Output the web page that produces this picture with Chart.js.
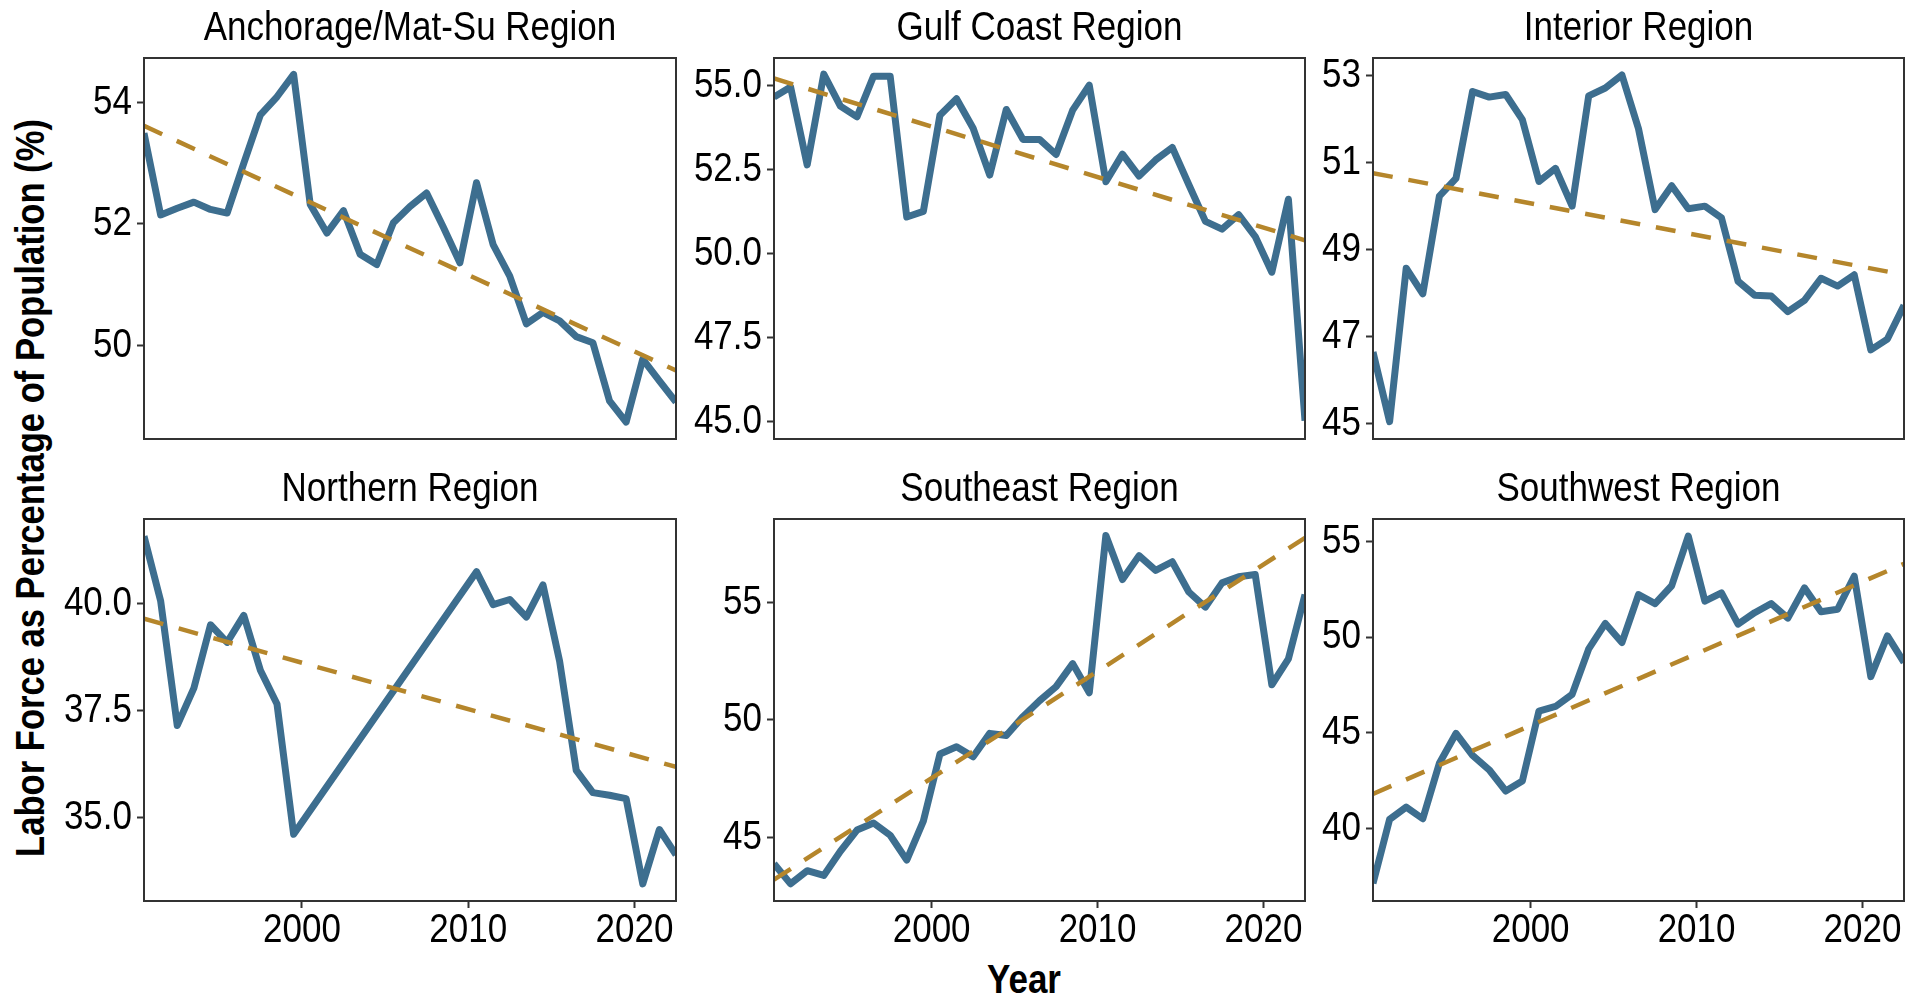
<!DOCTYPE html>
<html>
<head>
<meta charset="utf-8">
<title>Labor Force as Percentage of Population by Region</title>
<script src="https://cdn.jsdelivr.net/npm/chart.js@4.4.1/dist/chart.umd.min.js"></script>
<style>
  html, body { margin: 0; padding: 0; background: #fff; }
  #wrap { position: relative; width: 1907px; height: 996px; overflow: hidden; background: #fff; }
  .panel { position: absolute; }
  #ytitle {
    position: absolute; left: 30px; top: 488px;
    transform: translate(-50%, -50%) rotate(-90deg) scaleY(1.18);
    white-space: nowrap; color: #000;
    font: bold 34.6px "Liberation Sans", Arial, sans-serif;
  }
  #xtitle {
    position: absolute; left: 1024px; top: 979px;
    transform: translate(-50%, -50%) scaleY(1.15);
    white-space: nowrap; color: #000;
    font: bold 35px "Liberation Sans", Arial, sans-serif;
  }
</style>
</head>
<body>
<div id="wrap">
  <div id="ytitle">Labor Force as Percentage of Population (%)</div>
  <div id="xtitle">Year</div>
</div>

<script>
// ---- data ----
const years = [1990, 1991, 1992, 1993, 1994, 1995, 1996, 1997, 1998, 1999,
               2000, 2001, 2002, 2003, 2004, 2005, 2006, 2007, 2008, 2009,
               2010, 2011, 2012, 2013, 2014, 2015, 2016, 2017, 2018, 2019,
               2020, 2021, 2022];
const xTicks = [2000, 2010, 2020];

const anchorage = [53.5, 52.15, 52.26, 52.36, 52.24, 52.18, 53.0, 53.8, 54.1, 54.47,
                   52.32, 51.85, 52.22, 51.5, 51.33, 52.02, 52.29, 52.51, 51.95, 51.36,
                   52.68, 51.66, 51.14, 50.35, 50.54, 50.4, 50.14, 50.04, 49.08, 48.73,
                   49.77, 49.41, 49.06];
const gulfCoast = [54.65, 54.95, 52.63, 55.33, 54.38, 54.06, 55.27, 55.27, 51.08, 51.25,
                   54.11, 54.6, 53.72, 52.33, 54.28, 53.39, 53.39, 52.94, 54.26, 55.0,
                   52.13, 52.95, 52.3, 52.78, 53.15, 52.04, 50.95, 50.72, 51.15, 50.5,
                   49.44, 51.61, 45.02];
const interior  = [46.64, 45.04, 48.57, 47.98, 50.23, 50.64, 52.64, 52.51, 52.57, 51.99,
                   50.57, 50.87, 50.0, 52.54, 52.72, 53.02, 51.78, 49.92, 50.47, 49.94,
                   50.0, 49.73, 48.27, 47.95, 47.93, 47.57, 47.83, 48.34, 48.16, 48.42,
                   46.69, 46.94, 47.72];
const northern  = [41.58, 40.07, 37.16, 38.03, 39.51, 39.1, 39.73, 38.45, 37.66, 34.62,
                   null, null, null, null, null, null, null, null, null, null,
                   40.75, 39.98, 40.1, 39.69, 40.44, 38.66, 36.11, 35.59, 35.53, 35.45,
                   33.46, 34.73, 34.14];
const southeast = [43.87, 43.01, 43.57, 43.37, 44.4, 45.3, 45.6, 45.08, 44.02, 45.68,
                   48.54, 48.85, 48.42, 49.42, 49.33, 50.13, 50.81, 51.41, 52.39, 51.15,
                   57.85, 55.97, 56.99, 56.36, 56.73, 55.44, 54.8, 55.83, 56.09, 56.19,
                   51.49, 52.59, 55.33];
const southwest = [37.12, 40.47, 41.11, 40.5, 43.4, 44.96, 43.81, 43.06, 41.95, 42.47,
                   46.13, 46.37, 47.0, 49.38, 50.71, 49.71, 52.22, 51.75, 52.68, 55.28,
                   51.88, 52.31, 50.67, 51.27, 51.75, 50.99, 52.57, 51.32, 51.45, 53.18,
                   47.93, 50.06, 48.67];

// linear trend, value at first and last year
const anchorageTrend = [53.62, 49.58];
const gulfCoastTrend = [55.2, 50.39];
const interiorTrend  = [50.76, 48.42];
const northernTrend  = [39.65, 36.19];
const southeastTrend = [43.19, 57.75];
const southwestTrend = [41.8, 53.83];

// y ticks and y ranges per facet
const anchorageTicks = [50, 52, 54];
const gulfCoastTicks = [45, 47.5, 50, 52.5, 55];
const interiorTicks  = [45, 47, 49, 51, 53];
const northernTicks  = [35, 37.5, 40];
const southeastTicks = [45, 50, 55];
const southwestTicks = [40, 45, 50, 55];

const anchorageRange = [48.45, 54.74];
const gulfCoastRange = [44.48, 55.81];
const interiorRange  = [44.64, 53.41];
const northernRange  = [33.06, 41.98];
const southeastRange = [42.28, 58.55];
const southwestRange = [36.2, 56.17];

const panels = [
  { title: 'Anchorage/Mat-Su Region', values: anchorage, trend: anchorageTrend, ticks: anchorageTicks, range: anchorageRange, dec: 0 },
  { title: 'Gulf Coast Region',       values: gulfCoast, trend: gulfCoastTrend, ticks: gulfCoastTicks, range: gulfCoastRange, dec: 1 },
  { title: 'Interior Region',         values: interior,  trend: interiorTrend,  ticks: interiorTicks,  range: interiorRange,  dec: 0 },
  { title: 'Northern Region',         values: northern,  trend: northernTrend,  ticks: northernTicks,  range: northernRange,  dec: 1 },
  { title: 'Southeast Region',        values: southeast, trend: southeastTrend, ticks: southeastTicks, range: southeastRange, dec: 0 },
  { title: 'Southwest Region',        values: southwest, trend: southwestTrend, ticks: southwestTicks, range: southwestRange, dec: 0 },
];

// ---- look ----
const BLUE = '#3d6e8f';
const GOLD = '#b5862b';
const FRAME = '#333333';
const MID = 0.5;            // yearly values sit mid-year on the axis
const TEXT_STRETCH = 1.18;  // reference type is tall and narrow

// panel boxes (plot areas) in page pixels
const colLeft  = [144, 774, 1373];
const colWidth = [532, 531, 531];
const rowTop   = [58, 519];
const rowH     = [381, 382];
const LPAD = 100, RPAD = 4, TITLE_H = 58, XAXIS_H = 62;

const FAMILY = '"Liberation Sans", Arial, sans-serif';
const FSIZE = 35;

// draw every label a bit taller, anchored where Chart.js puts it
const tallText = {
  id: 'tallText',
  beforeInit(chart) {
    const ctx = chart.ctx;
    const orig = ctx.fillText;
    ctx.fillText = function (text, x, y, maxWidth) {
      this.save();
      this.translate(x, y);
      this.scale(1, TEXT_STRETCH);
      if (maxWidth === undefined) orig.call(this, text, 0, 0);
      else orig.call(this, text, 0, 0, maxWidth);
      this.restore();
    };
  }
};

const framePlugin = {
  id: 'frame',
  afterDatasetsDraw(chart) {
    const a = chart.chartArea, ctx = chart.ctx;
    ctx.save();
    ctx.strokeStyle = FRAME;
    ctx.lineWidth = 2;
    ctx.strokeRect(a.left, a.top, a.right - a.left, a.bottom - a.top);
    ctx.restore();
  }
};

function makePanel(p, idx) {
  const row = Math.floor(idx / 3), col = idx % 3;
  const bottomRow = row === 1;
  const box = { left: colLeft[col], top: rowTop[row], w: colWidth[col], h: rowH[row] };

  const div = document.createElement('div');
  div.className = 'panel';
  div.style.left = (box.left - LPAD) + 'px';
  div.style.top = (box.top - TITLE_H) + 'px';
  div.style.width = (LPAD + box.w + RPAD) + 'px';
  div.style.height = (TITLE_H + box.h + (bottomRow ? XAXIS_H : 4)) + 'px';
  const canvas = document.createElement('canvas');
  div.appendChild(canvas);
  document.getElementById('wrap').appendChild(div);

  const x0 = years[0] + MID, x1 = years[years.length - 1] + MID;
  const line = years.map((yr, i) => ({ x: yr + MID, y: p.values[i] }));
  const trend = [{ x: x0, y: p.trend[0] }, { x: x1, y: p.trend[1] }];
  const font = { family: FAMILY, size: FSIZE, weight: 'normal', lineHeight: 1.2 };

  new Chart(canvas, {
    type: 'line',
    data: {
      datasets: [
        { data: line, borderColor: BLUE, borderWidth: 7, pointRadius: 0, tension: 0,
          spanGaps: true, clip: 0, order: 1, borderJoinStyle: 'round', borderCapStyle: 'butt' },
        { data: trend, borderColor: GOLD, borderWidth: 4.5, borderDash: [20, 16], pointRadius: 0,
          tension: 0, clip: 0, order: 0, borderCapStyle: 'butt' },
      ],
    },
    options: {
      animation: false,
      responsive: true,
      maintainAspectRatio: false,
      devicePixelRatio: 1,
      layout: { padding: { left: 0, top: 0, right: RPAD, bottom: bottomRow ? 0 : 4 } },
      plugins: {
        legend: { display: false },
        tooltip: { enabled: false },
        title: {
          display: true, fullSize: false, text: p.title, color: '#000', font,
          padding: { top: 8, bottom: TITLE_H - 8 - FSIZE * 1.2 },
        },
      },
      scales: {
        x: {
          type: 'linear', min: x0, max: x1, display: bottomRow,
          afterBuildTicks: s => { s.ticks = xTicks.map(v => ({ value: v })); },
          afterFit: s => {
            s.height = bottomRow ? XAXIS_H : 0;
            s.paddingLeft = 0; s.paddingRight = 0;
          },
          ticks: { color: '#000', font, padding: 2, maxRotation: 0, autoSkip: false,
                   callback: v => String(v) },
          grid: { drawOnChartArea: false, drawTicks: true, tickLength: 7, tickColor: FRAME, tickWidth: 2 },
          border: { display: false },
        },
        y: {
          type: 'linear', min: p.range[0], max: p.range[1],
          afterBuildTicks: s => { s.ticks = p.ticks.map(v => ({ value: v })); },
          afterFit: s => { s.width = LPAD; s.paddingTop = 0; s.paddingBottom = 0; },
          ticks: { color: '#000', font, padding: 5, autoSkip: false,
                   callback: v => Number(v).toFixed(p.dec) },
          grid: { drawOnChartArea: false, drawTicks: true, tickLength: 7, tickColor: FRAME, tickWidth: 2 },
          border: { display: false },
        },
      },
    },
    plugins: [tallText, framePlugin],
  });
}

panels.forEach(makePanel);
</script>
</body>
</html>
